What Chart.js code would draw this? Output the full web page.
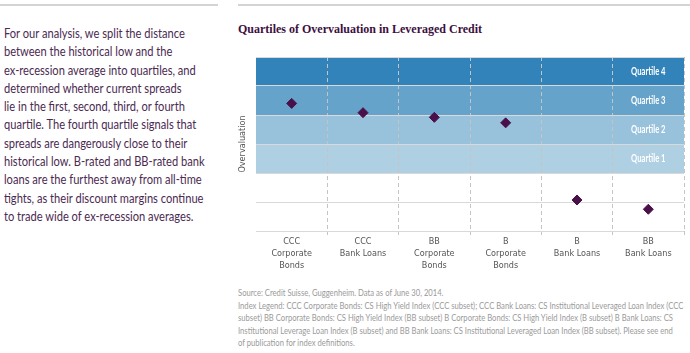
<!DOCTYPE html>
<html>
<head>
<meta charset="utf-8">
<script src="https://cdn.jsdelivr.net/npm/chart.js@4.4.1/dist/chart.umd.min.js"></script>
<style>
  body { margin: 0; width: 690px; height: 353px; background: #fff; position: relative; overflow: hidden; }
  .rule { position: absolute; top: 4px; height: 2px; background: #d4d4d4; }
  #intro {
    position: absolute; left: 4px; top: 24px; margin: 0;
    font-family: Lato, "Open Sans", sans-serif; font-size: 13px; line-height: 18.3px;
    color: #4b2a52; white-space: nowrap;
    transform: scaleX(0.855); transform-origin: left top;
  }
  #title {
    position: absolute; left: 238px; top: 22px; margin: 0;
    font-family: "Liberation Serif", serif; font-weight: bold; font-size: 12px;
    color: #3d0f3f; white-space: nowrap;
  }
  #chartBox { position: absolute; left: 230px; top: 40px; width: 460px; height: 240px; }
  #source {
    position: absolute; left: 238px; top: 287px; margin: 0;
    font-family: Lato, "Open Sans", sans-serif; font-size: 9.5px; line-height: 12.6px;
    color: #9a9a9a; white-space: nowrap;
    transform: scaleX(0.805); transform-origin: left top;
  }
</style>
</head>
<body>
<div class="rule" style="left:0;width:218px"></div>
<div class="rule" style="left:238px;width:452px"></div>

<p id="intro">For our analysis, we split the distance<br>between the historical low and the<br>ex-recession average into quartiles, and<br>determined whether current spreads<br>lie in the first, second, third, or fourth<br>quartile. The fourth quartile signals that<br>spreads are dangerously close to their<br>historical low. B-rated and BB-rated bank<br>loans are the furthest away from all-time<br>tights, as their discount margins continue<br>to trade wide of ex-recession averages.</p>

<p id="title">Quartiles of Overvaluation in Leveraged Credit</p>

<div id="chartBox"><canvas id="myChart"></canvas></div>

<p id="source">Source: Credit Suisse, Guggenheim. Data as of June 30, 2014.<br>Index Legend: CCC Corporate Bonds: CS High Yield Index (CCC subset); CCC Bank Loans: CS Institutional Leveraged Loan Index (CCC<br>subset) BB Corporate Bonds: CS High Yield Index (BB subset) B Corporate Bonds: CS High Yield Index (B subset) B Bank Loans: CS<br>Institutional Leverage Loan Index (B subset) and BB Bank Loans: CS Institutional Leveraged Loan Index (BB subset). Please see end<br>of publication for index definitions.</p>

<script>
const categories = [
  ['CCC', 'Corporate', 'Bonds'],
  ['CCC', 'Bank Loans'],
  ['BB', 'Corporate', 'Bonds'],
  ['B', 'Corporate', 'Bonds'],
  ['B', 'Bank Loans'],
  ['BB', 'Bank Loans']
];
const overvaluation = [4.40, 4.08, 3.92, 3.73, 1.07, 0.75];

const quartileLabels = ['Quartile 1', 'Quartile 2', 'Quartile 3', 'Quartile 4'];
const quartileBounds = [2, 3, 4, 5, 6];
const quartileColors = ['#afcfe3', '#98c1dc', '#66a3ca', '#3283b9'];

const condensed = '"DejaVu Sans Condensed", sans-serif';

// quartile bands behind the grid, labels on top
const quartileBands = {
  id: 'quartileBands',
  beforeDraw(chart) {
    const { ctx, chartArea, scales } = chart;
    ctx.save();
    quartileLabels.forEach((label, i) => {
      const top = scales.y.getPixelForValue(quartileBounds[i + 1]);
      const bottom = scales.y.getPixelForValue(quartileBounds[i]);
      ctx.fillStyle = quartileColors[i];
      ctx.fillRect(chartArea.left, top, chartArea.right - chartArea.left, bottom - top);
    });
    ctx.restore();
  },
  afterDraw(chart) {
    const { ctx, scales } = chart;
    const x = scales.x.getPixelForValue(categories.length - 1);
    quartileLabels.forEach((label, i) => {
      const y = scales.y.getPixelForValue((quartileBounds[i] + quartileBounds[i + 1]) / 2);
      ctx.save();
      ctx.translate(x, y);
      ctx.scale(0.73, 1);   // the original uses a condensed face
      ctx.fillStyle = '#ffffff';
      ctx.font = 'bold 10.5px Lato, sans-serif';
      ctx.textAlign = 'center';
      ctx.textBaseline = 'middle';
      ctx.fillText(label, 0, 0);
      ctx.restore();
    });
  }
};

new Chart(document.getElementById('myChart').getContext('2d'), {
  type: 'line',
  data: {
    labels: categories,
    datasets: [{
      data: overvaluation,
      showLine: false,
      pointStyle: 'rectRot',
      pointRadius: 5,
      pointHoverRadius: 5,
      backgroundColor: '#4a1049',
      borderColor: '#4a1049',
      borderWidth: 1
    }]
  },
  options: {
    responsive: true,
    maintainAspectRatio: false,
    animation: false,
    layout: { padding: { top: 17, right: 2 } },
    plugins: {
      legend: { display: false },
      tooltip: { enabled: false }
    },
    scales: {
      x: {
        offset: true,
        grid: {
          offset: true,
          color: (c) => (c.index === 0 || c.index === categories.length) ? 'transparent' : '#c4c4c4',
          tickLength: 4
        },
        border: { display: false, dash: [4, 3] },
        ticks: {
          color: '#555',
          padding: 1,
          maxRotation: 0,
          font: { family: condensed, size: 9, lineHeight: 1.33 }
        },
        afterFit(scale) { scale.height = 49; }
      },
      y: {
        min: 0,
        max: 6,
        ticks: { stepSize: 1, display: false },
        grid: { color: '#d9d9d9', drawTicks: false },
        border: { display: false },
        title: {
          display: true,
          text: 'Overvaluation',
          color: '#555',
          padding: 7,
          font: { family: condensed, size: 9 }
        },
        afterFit(scale) { scale.width = 26; }
      }
    }
  },
  plugins: [quartileBands]
});
</script>
</body>
</html>
